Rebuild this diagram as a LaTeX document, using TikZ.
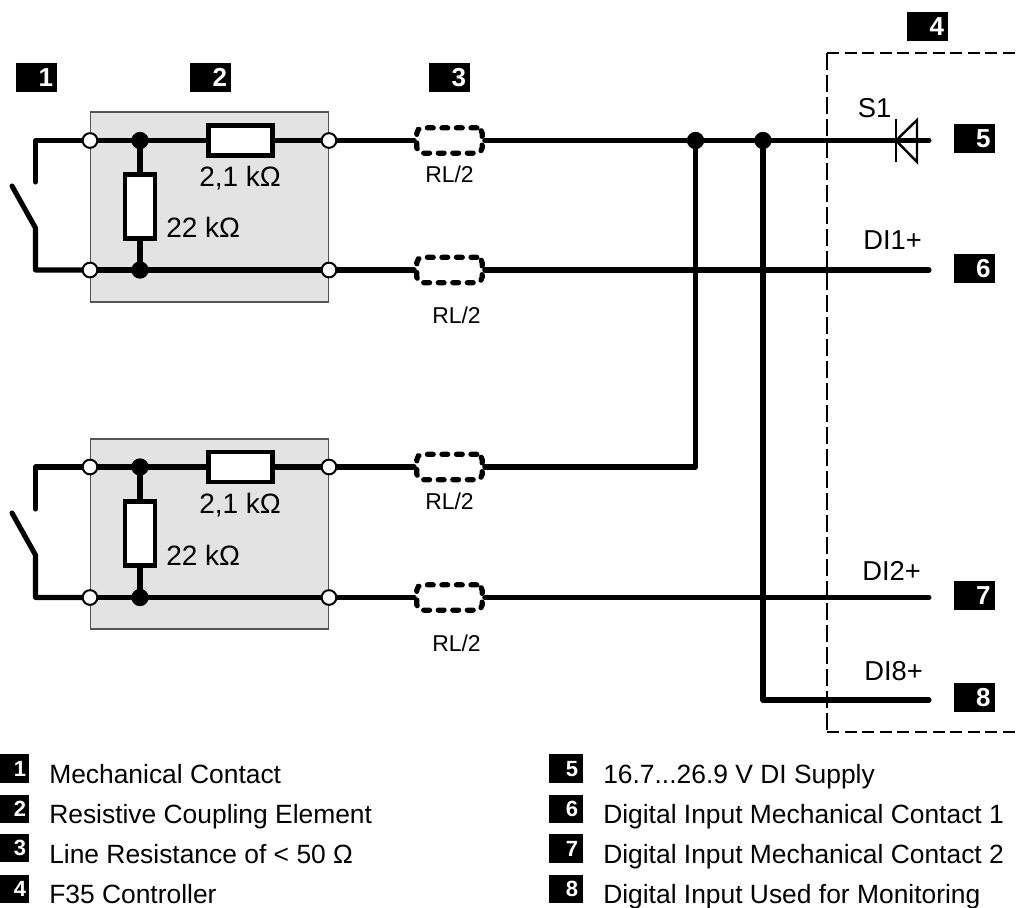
\documentclass[tikz,border=0pt]{standalone}
\usepackage{fontspec}
\setmainfont{Liberation Sans}
\usepackage{tikz}
\definecolor{boxGray}{HTML}{E3E3E3}
\definecolor{boxEdge}{HTML}{555555}
\pgfdeclarelayer{wirelayer}
\pgfsetlayers{wirelayer,main}
\newcommand{\sizedfont}[1]{\fontsize{#1}{#1}\selectfont}
\tikzstyle{wire} = [line width=3.8pt, line cap=round, line join=round]
\tikzstyle{coupling} = [rectangle, draw=boxEdge, fill=boxGray, line width=0.8pt, minimum width=179pt, minimum height=142.5pt, inner sep=0pt]
\tikzstyle{resH} = [rectangle, draw=black, fill=white, line width=3.6pt, minimum width=48pt, minimum height=22.5pt, inner sep=0pt]
\tikzstyle{resV} = [rectangle, draw=black, fill=white, line width=3.6pt, minimum width=22.5pt, minimum height=48pt, inner sep=0pt]
\tikzstyle{lineRes} = [rectangle, draw=black, rounded corners=4pt, line width=3.9pt, line cap=round, dash pattern=on 4.4pt off 6.5pt, minimum width=49pt, minimum height=19pt, inner sep=0pt]
\tikzstyle{term} = [circle, draw=black, fill=white, line width=1.5pt, minimum size=11pt, inner sep=0pt]
\tikzstyle{junction} = [circle, fill=black, minimum size=13pt, inner sep=0pt]
\tikzstyle{badge} = [rectangle, fill=black, text=white, minimum width=30.75pt, minimum height=21.75pt, inner xsep=3pt, inner ysep=0pt, text width=24.75pt, align=right, text height=13.6pt, text depth=0pt, font=\sizedfont{19.5pt}\bfseries]
\tikzstyle{keyBadge} = [rectangle, fill=black, text=white, minimum width=21.75pt, minimum height=21.4pt, inner xsep=2.2pt, inner ysep=0pt, text width=17.35pt, align=right, text height=11.6pt, text depth=0pt, font=\sizedfont{16.5pt}\bfseries]
\tikzstyle{keyBadgeWide} = [keyBadge, minimum width=25.5pt, inner xsep=3.6pt, text width=18.3pt]
\tikzstyle{keyText} = [anchor=base west, inner sep=0pt, font=\sizedfont{19.8pt}]
\tikzstyle{valueText} = [anchor=base west, inner sep=0pt, font=\sizedfont{21pt}]
\tikzstyle{rlText} = [anchor=base west, inner sep=0pt, font=\sizedfont{17.2pt}]
\tikzstyle{portText} = [anchor=base west, inner sep=0pt, font=\sizedfont{20.5pt}]
\tikzstyle{controller} = [line width=2pt, line cap=butt]

\begin{document}
\begin{tikzpicture}[x=0.75pt, y=-0.75pt]
    \useasboundingbox (0,0) rectangle (1021,907);

    % callouts above the circuit
    \node (CallOne) [badge] at (36.5,77) {1};
    \node (CallTwo) [badge] at (210.5,77) {2};
    \node (CallThree) [badge] at (449.5,77) {3};
    \node (CallFour) [badge] at (927.5,26) {4};
    \node (CallFive) [badge] at (974,138.5) {5};
    \node (CallSix) [badge] at (974,268.5) {6};
    \node (CallSeven) [badge] at (974,595) {7};
    \node (CallEight) [badge] at (974,697.5) {8};

    % upper contact
    \begin{pgfonlayer}{wirelayer}
    \node (CouplingA) [coupling] at (209.5,207) {};
    \end{pgfonlayer}
    \node (TermTopInA) [term] at (90,140.5) {};
    \node (TermTopOutA) [term] at (329,140.5) {};
    \node (TermLowInA) [term] at (90,270) {};
    \node (TermLowOutA) [term] at (329,270) {};
    \node (DotTopA) [junction] at (140,140.5) {};
    \node (DotLowA) [junction] at (140,270) {};
    \node (ResSeriesA) [resH] at (240.5,140.5) {};
    \node (ResParA) [resV] at (140,206.5) {};
    \node (LineTopA) [lineRes] at (449.5,140.5) {};
    \node (LineLowA) [lineRes] at (449.5,270) {};
    \node (ValSeriesA) [valueText] at (199,186) {2,1 kΩ};
    \node (ValParA) [valueText] at (166,237) {22 kΩ};
    \node (RlTopA) [rlText] at (425,182) {RL/2};
    \node (RlLowA) [rlText] at (432,323) {RL/2};
    \coordinate (CornerTopA) at (35.5,140.5);
    \coordinate (ContactTopA) at (35.5,182);
    \coordinate (CornerLowA) at (35.5,270);
    \coordinate (ContactHingeA) at (35.5,228);
    \coordinate (ContactTipA) at (12,186);

    % lower contact
    \begin{pgfonlayer}{wirelayer}
    \node (CouplingB) [coupling] at (209.5,534) {};
    \end{pgfonlayer}
    \node (TermTopInB) [term] at (90,467) {};
    \node (TermTopOutB) [term] at (329,467) {};
    \node (TermLowInB) [term] at (90,597.5) {};
    \node (TermLowOutB) [term] at (329,597.5) {};
    \node (DotTopB) [junction] at (140,467) {};
    \node (DotLowB) [junction] at (140,597.5) {};
    \node (ResSeriesB) [resH] at (240.5,467) {};
    \node (ResParB) [resV] at (140,533.5) {};
    \node (LineTopB) [lineRes] at (449.5,467) {};
    \node (LineLowB) [lineRes] at (449.5,597.5) {};
    \node (ValSeriesB) [valueText] at (199,513) {2,1 kΩ};
    \node (ValParB) [valueText] at (166,565) {22 kΩ};
    \node (RlTopB) [rlText] at (425,509) {RL/2};
    \node (RlLowB) [rlText] at (432,651) {RL/2};
    \coordinate (CornerTopB) at (35.5,467);
    \coordinate (ContactTopB) at (35.5,509);
    \coordinate (CornerLowB) at (35.5,597.5);
    \coordinate (ContactHingeB) at (35.5,555);
    \coordinate (ContactTipB) at (12,513);

    % controller side
    \node (DotSupply) [junction] at (695.5,140.5) {};
    \node (DotMonitor) [junction] at (763,140.5) {};
    \coordinate (ElbowSupply) at (695.5,467);
    \coordinate (ElbowMonitor) at (763,700);
    \coordinate (PortFive) at (929,140.5);
    \coordinate (PortSix) at (929,270);
    \coordinate (PortSeven) at (929,597.5);
    \coordinate (PortEight) at (929,700);
    \coordinate (CtrlTop) at (827,53);
    \coordinate (CtrlLow) at (827,732);
    \coordinate (CtrlTopEnd) at (1021,53);
    \coordinate (CtrlLowEnd) at (1021,732);
    \coordinate (DiodeBarTop) at (896,119);
    \coordinate (DiodeBarLow) at (896,162);
    \coordinate (DiodeTip) at (896,140.5);
    \coordinate (DiodeBaseTop) at (917,120);
    \coordinate (DiodeBaseLow) at (917,162);
    \node (TextSOne) [portText] at (857.5,117) {S1};
    \node (TextDiOne) [portText] at (863,249) {DI1+};
    \node (TextDiTwo) [portText] at (862,580) {DI2+};
    \node (TextDiEight) [portText] at (864,680) {DI8+};

    \begin{pgfonlayer}{wirelayer}
    \draw [wire] (TermTopInA) -- (CornerTopA) -- (ContactTopA);
    \draw [wire] (TermLowInA) -- (CornerLowA) -- (ContactHingeA) -- (ContactTipA);
    \draw [wire] (TermTopInA) -- (DotTopA);
    \draw [wire] (DotTopA) -- (ResSeriesA);
    \draw [wire] (ResSeriesA) -- (TermTopOutA);
    \draw [wire] (DotTopA) -- (ResParA);
    \draw [wire] (ResParA) -- (DotLowA);
    \draw [wire] (TermLowInA) -- (DotLowA);
    \draw [wire] (DotLowA) -- (TermLowOutA);
    \draw [wire] (TermTopOutA) -- (LineTopA);
    \draw [wire] (TermLowOutA) -- (LineLowA);
    \draw [wire] (LineTopA) -- (DotSupply);
    \draw [wire] (DotSupply) -- (DotMonitor);
    \draw [wire] (DotMonitor) -- (PortFive);
    \draw [wire] (LineLowA) -- (PortSix);

    \draw [wire] (TermTopInB) -- (CornerTopB) -- (ContactTopB);
    \draw [wire] (TermLowInB) -- (CornerLowB) -- (ContactHingeB) -- (ContactTipB);
    \draw [wire] (TermTopInB) -- (DotTopB);
    \draw [wire] (DotTopB) -- (ResSeriesB);
    \draw [wire] (ResSeriesB) -- (TermTopOutB);
    \draw [wire] (DotTopB) -- (ResParB);
    \draw [wire] (ResParB) -- (DotLowB);
    \draw [wire] (TermLowInB) -- (DotLowB);
    \draw [wire] (DotLowB) -- (TermLowOutB);
    \draw [wire] (TermTopOutB) -- (LineTopB);
    \draw [wire] (TermLowOutB) -- (LineLowB);
    \draw [wire] (LineTopB) -- (ElbowSupply) -- (DotSupply);
    \draw [wire] (LineLowB) -- (PortSeven);
    \draw [wire] (DotMonitor) -- (ElbowMonitor) -- (PortEight);
    \end{pgfonlayer}

    \draw [controller, dash pattern=on 12.75pt off 3.75pt] (CtrlTop) -- (CtrlLow);
    \draw [controller, dash pattern=on 9pt off 4.2pt] (CtrlTop) -- (CtrlTopEnd);
    \draw [controller, dash pattern=on 9pt off 4.2pt] (CtrlLow) -- (CtrlLowEnd);
    \draw [line width=1.8pt] (DiodeBarTop) -- (DiodeBarLow);
    \draw [line width=1.8pt, line join=miter] (DiodeBaseTop) -- (DiodeTip) -- (DiodeBaseLow) -- cycle;

    % key below the circuit
    \node (KeyOne) [keyBadge] at (14.5,768.5) {1};
    \node (KeyTwo) [keyBadge] at (14.5,809) {2};
    \node (KeyThree) [keyBadge] at (14.5,848) {3};
    \node (KeyFour) [keyBadge] at (14.5,889) {4};
    \node (KeyFive) [keyBadgeWide] at (566,768.5) {5};
    \node (KeySix) [keyBadgeWide] at (566,809) {6};
    \node (KeySeven) [keyBadgeWide] at (566,848.5) {7};
    \node (KeyEight) [keyBadgeWide] at (566,889) {8};
    \node (KeyTextOne) [keyText] at (49,783) {Mechanical Contact};
    \node (KeyTextTwo) [keyText] at (49,823) {Resistive Coupling Element};
    \node (KeyTextThree) [keyText] at (49,863) {Line Resistance of < 50 Ω};
    \node (KeyTextFour) [keyText] at (49,903) {F35 Controller};
    \node (KeyTextFive) [keyText] at (603,783) {16.7...26.9 V DI Supply};
    \node (KeyTextSix) [keyText] at (603,823) {Digital Input Mechanical Contact 1};
    \node (KeyTextSeven) [keyText] at (603,863) {Digital Input Mechanical Contact 2};
    \node (KeyTextEight) [keyText] at (603,903) {Digital Input Used for Monitoring};
\end{tikzpicture}
\end{document}
